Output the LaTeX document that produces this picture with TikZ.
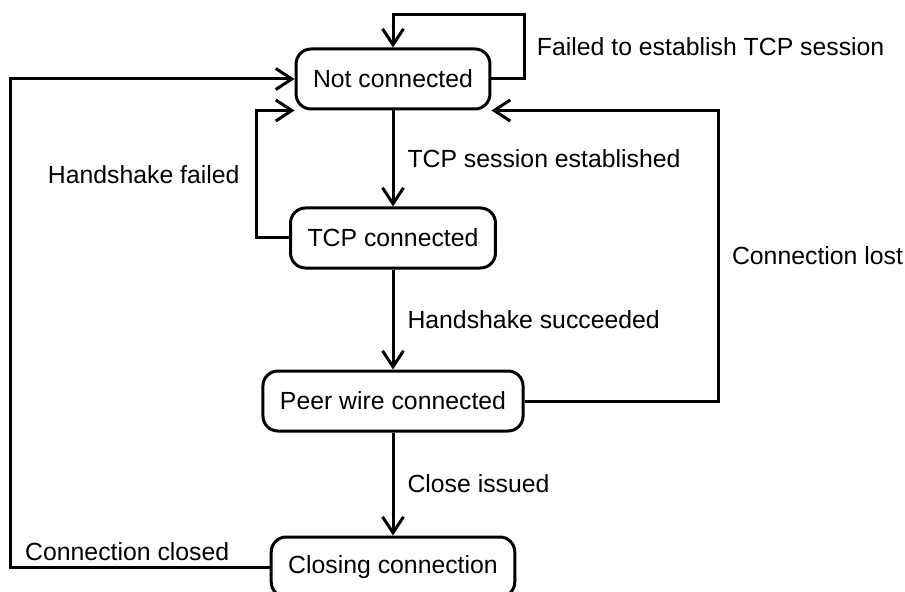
\documentclass[tikz,border=0pt]{standalone}
\usepackage{fontspec}
\setmainfont{Liberation Sans}
\usetikzlibrary{arrows.meta}
\tikzset{
  state/.style={draw, line width=3bp, rounded corners=15bp, minimum height=60bp, inner xsep=17bp, font=\fontsize{24.8bp}{30bp}\selectfont},
  lbl/.style={inner sep=0pt, font=\fontsize{24.8bp}{30bp}\selectfont},
  arr/.style={-{Straight Barb[length=16bp,width=21bp]}, line width=3bp}
}
\begin{document}
\begin{tikzpicture}[x=1bp,y=-1bp]
            \useasboundingbox (0,0) rectangle (905,592);
            \clip (0,0) rectangle (905,592);

            \node[state] (NC) at (393,79) {Not connected};
            \node[state] (TCP) at (393,238) {TCP connected};
            \node[state] (PW) at (393,401) {Peer wire connected};
            \node[state] (CC) at (393,567) {Closing connection};

            \draw[arr] (NC) to node[lbl, right=13bp] {TCP session established} (TCP);
            \draw[arr] (TCP) to node[lbl, right=13bp] {Handshake succeeded} (PW);
            \draw[arr] (PW) to node[lbl, right=13bp] {Close issued} (CC);

            \draw[arr] (NC.east) -- ++(33,0) -- node[lbl, right=11bp] {Failed to establish TCP session} ++(0,-64) -| (NC.north);
            \draw[arr] (TCP.west) -- ++(-33,0) |- node[lbl, pos=.25, left=15bp] {Handshake failed} (NC.south west);
            \draw[arr] (PW.east) -- ++(194,0) |- node[lbl, pos=.25, right=12bp] {Connection lost} (NC.south east);
            \draw[arr] (CC.west) -- ++(-259,0) node[lbl, anchor=base west, shift={(13bp,7bp)}] {Connection closed} |- (NC.west);
        \end{tikzpicture}
\end{document}
